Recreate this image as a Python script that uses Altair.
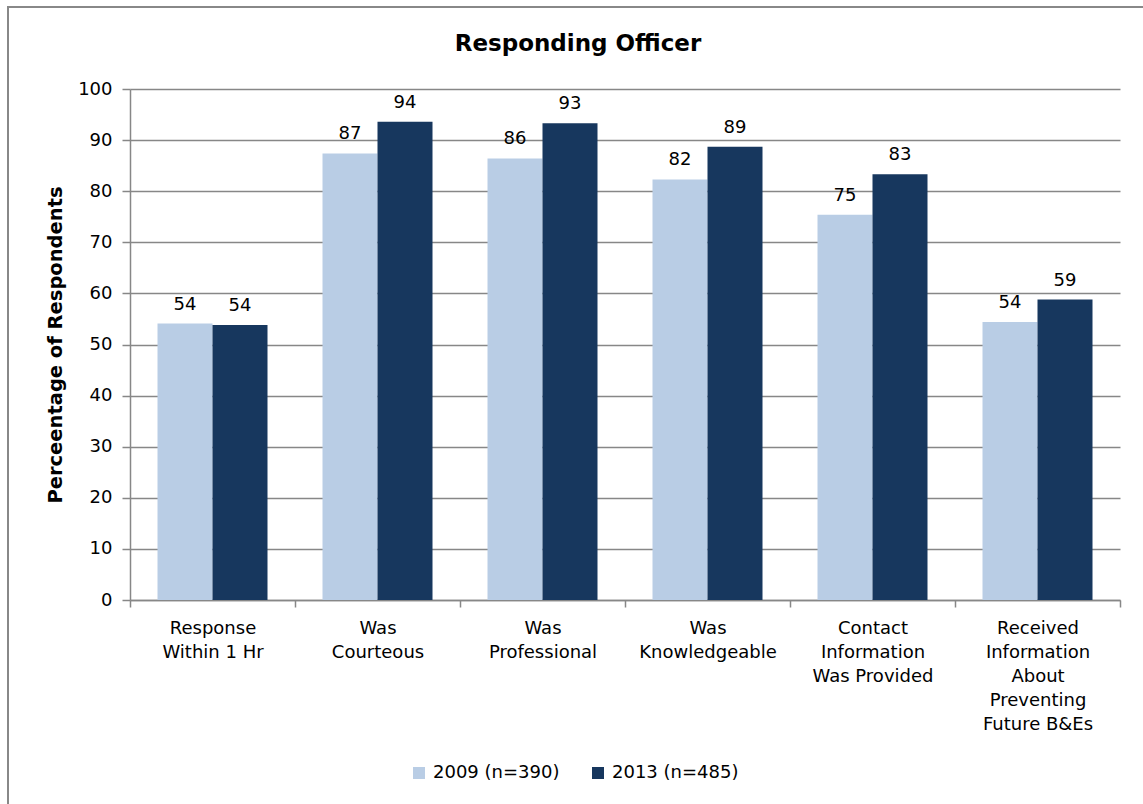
import altair as alt
import pandas as pd

# Survey items (line breaks marked with "|") and the two survey waves
categories = [
    "Response|Within 1 Hr",
    "Was|Courteous",
    "Was|Professional",
    "Was|Knowledgeable",
    "Contact|Information|Was Provided",
    "Received|Information|About|Preventing|Future B&Es",
]
series = ["2009 (n=390)", "2013 (n=485)"]
values_2009 = [54.1, 87.4, 86.4, 82.3, 75.4, 54.4]
values_2013 = [53.8, 93.6, 93.3, 88.7, 83.3, 58.8]
colors = ["#B9CDE5", "#17375E"]

rows = []
for cat, v09, v13 in zip(categories, values_2009, values_2013):
    rows.append({"category": cat, "series": series[0], "value": v09})
    rows.append({"category": cat, "series": series[1], "value": v13})
df = pd.DataFrame(rows)

FONT = "DejaVu Sans"
GRID = "#878787"

# Category bands fill the whole axis so ticks fall on the band boundaries;
# the gap around each bar pair comes from the offset scale's outer padding.
x_enc = alt.X(
    "category:N",
    sort=categories,
    scale=alt.Scale(paddingInner=0, paddingOuter=0),
    axis=alt.Axis(
        title=None,
        labelAngle=0,
        labelExpr="split(datum.label, '|')",
        labelFontSize=18,
        labelFont=FONT,
        labelColor="#000000",
        labelLineHeight=24,
        labelLimit=400,
        labelPadding=12,
        tickBand="extent",
        tickSize=7,
        tickColor=GRID,
        tickWidth=1.5,
        domainColor=GRID,
        domainWidth=1.5,
        grid=False,
    ),
)
xo_enc = alt.XOffset(
    "series:N", sort=series, scale=alt.Scale(paddingInner=0, paddingOuter=0.5)
)
y_enc = alt.Y(
    "value:Q",
    scale=alt.Scale(domain=[0, 100], nice=False),
    axis=alt.Axis(
        title="Perceentage of Respondents",
        titleFont=FONT,
        titleFontSize=19.5,
        titleFontWeight="bold",
        titleColor="#000000",
        titleX=-75,
        titleY=255.5,
        titleBaseline="middle",
        values=list(range(0, 101, 10)),
        labelFontSize=18,
        labelFont=FONT,
        labelColor="#000000",
        labelPadding=10,
        tickSize=8,
        tickColor=GRID,
        tickWidth=1.5,
        domainColor=GRID,
        domainWidth=1.5,
        grid=True,
        gridColor=GRID,
        gridWidth=1.5,
    ),
)

bars = alt.Chart(df).mark_bar().encode(
    x=x_enc,
    xOffset=xo_enc,
    y=y_enc,
    color=alt.Color(
        "series:N",
        sort=series,
        scale=alt.Scale(domain=series, range=colors),
        legend=alt.Legend(
            title=None,
            orient="none",
            direction="horizontal",
            legendX=280,
            legendY=675,
            symbolType="square",
            symbolSize=144,
            symbolStrokeWidth=0,
            labelFont=FONT,
            labelFontSize=18,
            labelColor="#000000",
            labelOffset=5,
            columnPadding=29,
        ),
    ),
)

labels = alt.Chart(df).mark_text(
    baseline="bottom", dy=-10, fontSize=18, font=FONT, color="#000000"
).encode(
    x=alt.X("category:N", sort=categories),
    xOffset=alt.XOffset("series:N", sort=series),
    y=alt.Y("value:Q"),
    text=alt.Text("value:Q", format=".0f"),
)

one = pd.DataFrame({"k": [0]})
title = alt.Chart(one).mark_text(
    text="Responding Officer", fontSize=23, fontWeight="bold", font=FONT,
    color="#000000", baseline="middle", align="center",
).encode(x=alt.value(448), y=alt.value(-45))

frame = alt.Chart(one).mark_rect(
    fill=None, stroke="#888888", strokeWidth=2, clip=False
).encode(
    x=alt.value(-122), x2=alt.value(1040), y=alt.value(-82), y2=alt.value(740)
)

chart = (
    alt.layer(frame, bars, labels, title)
    .properties(
        width=990,
        height=511,
        padding={"left": 130, "top": 89, "right": 23, "bottom": 204},
        autosize=alt.AutoSizeParams(type="none"),
        background="#ffffff",
    )
    .configure_view(strokeWidth=0)
)

chart.save("out.html", embed_options={"renderer": "svg", "actions": False})
